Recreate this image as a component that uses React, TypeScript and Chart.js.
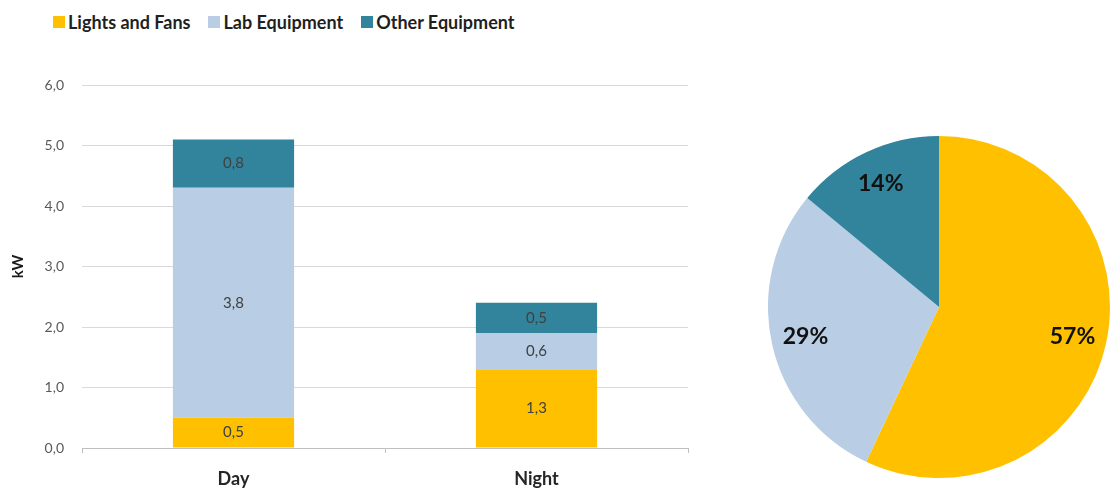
import React, { useEffect, useRef } from "react";
import { Chart, registerables } from "chart.js";

Chart.register(...registerables);

// Average load by period, kW
const periods = ["Day", "Night"];
const seriesNames = ["Lights and Fans", "Lab Equipment", "Other Equipment"];
const lightsAndFans = [0.5, 1.3];
const labEquipment = [3.8, 0.6];
const otherEquipment = [0.8, 0.5];
const yTickMin = 0;
const yTickMax = 6;
const yTickStep = 1;

// Share of energy use by load type, %
const sharePercent = [57, 29, 14];

const palette = ["#FFC000", "#B9CDE5", "#31849B"];
const FONT = "Lato, 'Open Sans', sans-serif";

const fmt = (v: number) => v.toFixed(1).replace(".", ",");

// Writes each stacked segment's value in its middle
const barValueLabels = {
  id: "barValueLabels",
  afterDatasetsDraw(chart: any) {
    const ctx = chart.ctx;
    ctx.save();
    ctx.font = `15px ${FONT}`;
    ctx.fillStyle = "#404040";
    ctx.textAlign = "center";
    ctx.textBaseline = "middle";
    chart.data.datasets.forEach((ds: any, di: number) => {
      const meta = chart.getDatasetMeta(di);
      meta.data.forEach((bar: any, i: number) => {
        const v = ds.data[i];
        const cy = (bar.y + bar.base) / 2;
        ctx.fillText(fmt(v), bar.x, cy);
      });
    });
    ctx.restore();
  },
};

// Writes each slice's percentage inside it
const pieValueLabels = {
  id: "pieValueLabels",
  afterDatasetsDraw(chart: any) {
    const ctx = chart.ctx;
    ctx.save();
    ctx.font = `bold 23px ${FONT}`;
    ctx.fillStyle = "#111111";
    ctx.textAlign = "center";
    ctx.textBaseline = "middle";
    const meta = chart.getDatasetMeta(0);
    meta.data.forEach((arc: any, i: number) => {
      const mid = (arc.startAngle + arc.endAngle) / 2;
      const r = arc.outerRadius * 0.8;
      ctx.fillText(
        `${chart.data.datasets[0].data[i]}%`,
        arc.x + Math.cos(mid) * r,
        arc.y + Math.sin(mid) * r
      );
    });
    ctx.restore();
  },
};

export default function App() {
  const barRef = useRef<HTMLCanvasElement>(null);
  const pieRef = useRef<HTMLCanvasElement>(null);

  useEffect(() => {
    const seriesValues = [lightsAndFans, labEquipment, otherEquipment];
    const bar = new Chart(barRef.current!, {
      type: "bar",
      data: {
        labels: periods,
        datasets: seriesNames.map((name, i) => ({
          label: name,
          data: seriesValues[i],
          backgroundColor: palette[i],
          borderWidth: 0,
          barPercentage: 0.4,
          categoryPercentage: 1,
        })),
      },
      options: {
        responsive: false,
        devicePixelRatio: 1,
        animation: false,
        layout: { padding: { top: 85, right: 12, bottom: 0, left: 0 } },
        plugins: {
          legend: { display: false },
          tooltip: { enabled: false },
        },
        scales: {
          x: {
            stacked: true,
            offset: true,
            grid: {
              display: true,
              drawOnChartArea: false,
              drawTicks: true,
              tickLength: 5,
              color: "#BFBFBF",
            },
            border: { display: true, color: "#BFBFBF" },
            ticks: {
              font: { family: FONT, size: 18, weight: "bold" },
              color: "#262626",
              padding: 15,
            },
            afterFit: (s: any) => {
              s.height = 46;
            },
          },
          y: {
            stacked: true,
            min: yTickMin,
            max: yTickMax,
            ticks: {
              stepSize: yTickStep,
              callback: (v: any) => fmt(Number(v)),
              font: { family: FONT, size: 14 },
              color: "#595959",
              padding: 18,
            },
            grid: { color: "#D9D9D9", drawTicks: false },
            border: { display: false },
            title: {
              display: true,
              text: "kW",
              font: { family: FONT, size: 15, weight: "bold" },
              color: "#1A1A1A",
              padding: { top: 9, bottom: 0 },
            },
            afterFit: (s: any) => {
              s.width = 82;
            },
          },
        },
      },
      plugins: [barValueLabels],
    });

    const pie = new Chart(pieRef.current!, {
      type: "pie",
      data: {
        labels: seriesNames,
        datasets: [
          {
            data: sharePercent,
            backgroundColor: palette,
            borderWidth: 0,
          },
        ],
      },
      options: {
        responsive: false,
        devicePixelRatio: 1,
        animation: false,
        layout: { padding: 0 },
        plugins: {
          legend: { display: false },
          tooltip: { enabled: false },
        },
      },
      plugins: [pieValueLabels],
    });

    return () => {
      bar.destroy();
      pie.destroy();
    };
  }, []);

  return (
    <div
      style={{
        position: "absolute",
        left: 0,
        top: 0,
        width: 1110,
        height: 494,
        background: "#FFFFFF",
        overflow: "hidden",
        fontFamily: FONT,
      }}
    >
      <div
        style={{
          position: "absolute",
          left: 53,
          top: 8,
          display: "flex",
          alignItems: "center",
          height: 28,
        }}
      >
        {seriesNames.map((name, i) => (
          <div
            key={name}
            style={{ display: "flex", alignItems: "center", marginRight: 18 }}
          >
            <span
              style={{
                display: "inline-block",
                width: 12,
                height: 12,
                background: palette[i],
                marginRight: 3,
              }}
            />
            <span
              style={{
                fontSize: 18,
                fontWeight: 700,
                color: "#1F1F1F",
                whiteSpace: "nowrap",
              }}
            >
              {name}
            </span>
          </div>
        ))}
      </div>
      <canvas
        ref={barRef}
        width={700}
        height={494}
        style={{ position: "absolute", left: 0, top: 0, width: 700, height: 494 }}
      />
      <canvas
        ref={pieRef}
        width={342}
        height={342}
        style={{ position: "absolute", left: 768, top: 136, width: 342, height: 342 }}
      />
    </div>
  );
}
